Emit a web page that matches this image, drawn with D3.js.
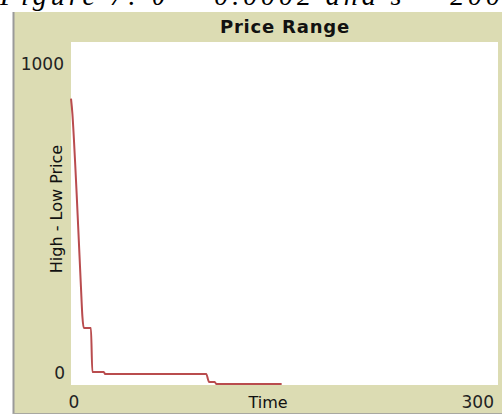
<!DOCTYPE html>
<html><head><meta charset="utf-8">
<script src="https://cdn.jsdelivr.net/npm/d3@7"></script>
<style>body{margin:0;background:#fff;}svg{display:block;}</style>
</head><body>
<svg id="c" width="502" height="415"></svg>
<script>
const times = [0,1,2,3,4,5,6,7,8,9,14,15,23,24,95,97,101,102,148];
const values = [835,790,720,640,555,465,375,285,200,166,166,38,38,32,32,9,9,3,3];
const xTicks = [0,300];
const yTicks = [0,1000];
const title = "Price Range";
const xLabel = "Time";
const yLabel = "High - Low Price";
const caption = "Figure 7: θ = 0.0002 and s = 200";

const svg = d3.select("#c");
const W = 502, H = 415;
const plot = {left:71, top:42, right:498, bottom:385};

// caption (clipped at top, as in the reference)
svg.append("text").attr("x",0).attr("y",5)
  .attr("font-family","Liberation Serif").attr("font-style","italic")
  .attr("font-size",28).attr("fill","#000")
  .attr("textLength",500).attr("lengthAdjust","spacing").text(caption);

// panel
svg.append("rect").attr("x",13).attr("y",12).attr("width",W-13).attr("height",401)
  .attr("fill","#dcdcb3");
svg.append("line").attr("x1",13.5).attr("x2",13.5).attr("y1",12).attr("y2",414)
  .attr("stroke","#9a9a9a").attr("stroke-width",2);
svg.append("line").attr("x1",13).attr("x2",W).attr("y1",413.5).attr("y2",413.5)
  .attr("stroke","#a8a8a0").attr("stroke-width",1);
svg.append("rect").attr("x",plot.left).attr("y",plot.top)
  .attr("width",plot.right-plot.left).attr("height",plot.bottom-plot.top).attr("fill","#ffffff");

const x = d3.scaleLinear().domain([xTicks[0], xTicks[1]]).range([plot.left, plot.right]);
const y = d3.scaleLinear().domain([yTicks[0], yTicks[1]]).range([plot.bottom, plot.top]);

const font = "DejaVu Sans";
svg.append("text").attr("x",285).attr("y",33).attr("text-anchor","middle")
  .attr("font-family",font).attr("font-weight","bold").attr("font-size",18)
  .attr("letter-spacing",0.8).attr("fill","#111").text(title);

// y tick labels
svg.append("text").attr("x",64).attr("y",y(yTicks[1])+28).attr("text-anchor","end")
  .attr("font-family",font).attr("font-size",17).attr("fill","#222").text(yTicks[1]);
svg.append("text").attr("x",65).attr("y",y(yTicks[0])-6).attr("text-anchor","end")
  .attr("font-family",font).attr("font-size",17).attr("fill","#222").text(yTicks[0]);
// x tick labels
svg.append("text").attr("x",x(xTicks[0])+3).attr("y",408).attr("text-anchor","middle")
  .attr("font-family",font).attr("font-size",17).attr("fill","#222").text(xTicks[0]);
svg.append("text").attr("x",494).attr("y",408).attr("text-anchor","end")
  .attr("font-family",font).attr("font-size",17).attr("fill","#222").text(xTicks[1]);
// axis labels
svg.append("text").attr("x",268).attr("y",408).attr("text-anchor","middle")
  .attr("font-family",font).attr("font-size",16).attr("fill","#111").text(xLabel);
svg.append("text").attr("transform","translate(62,209) rotate(-90)").attr("text-anchor","middle")
  .attr("font-family",font).attr("font-size",16).attr("fill","#111").text(yLabel);

const data = times.map((t,i)=>({t, v:values[i]}));
const line = d3.line().x(d=>x(d.t)).y(d=>y(d.v)).curve(d3.curveMonotoneX);
svg.append("path").datum(data).attr("d",line).attr("fill","none")
  .attr("stroke","#b94c4e").attr("stroke-width",2);
</script>
</body></html>
